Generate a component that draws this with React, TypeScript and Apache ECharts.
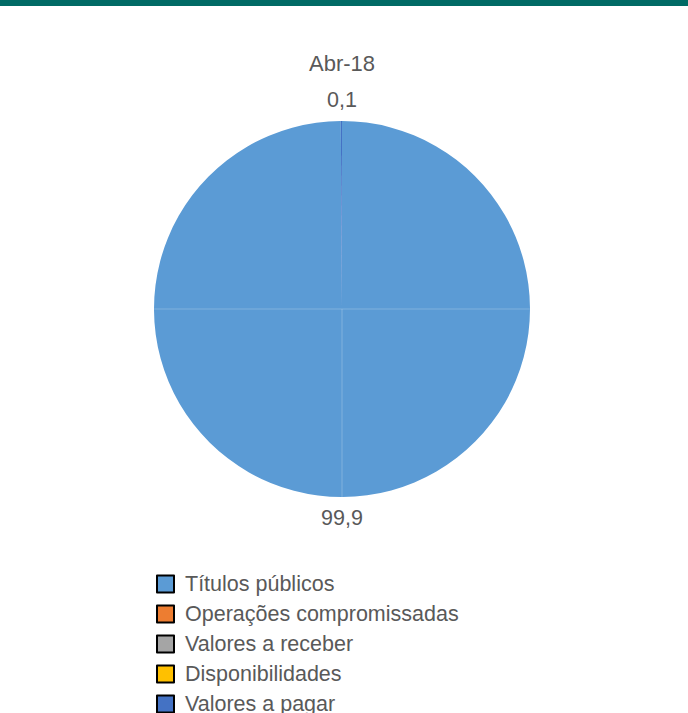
import React, { useEffect, useRef } from "react";
import * as echarts from "echarts";

const titleText = "Abr-18";
const categories = [
  "Títulos públicos",
  "Operações compromissadas",
  "Valores a receber",
  "Disponibilidades",
  "Valores a pagar",
];
const values = [99.9, 0, 0, 0, 0.1];
const colors = ["#5B9BD5", "#ED7D31", "#A5A5A5", "#FFC000", "#4472C4"];

const FONT = "'Liberation Sans', Arial, sans-serif";
const TXT = "#595959";

export default function App() {
  const ref = useRef<HTMLDivElement>(null);
  useEffect(() => {
    if (!ref.current) return;
    const chart = echarts.init(ref.current, null, { renderer: "svg" });
    const cx = 342;
    const cy = 309;
    const r = 188;
    chart.setOption({
      animation: false,
      backgroundColor: "#ffffff",
      color: colors,
      title: {
        text: titleText,
        left: cx,
        textAlign: "center",
        top: 52,
        padding: 0,
        textStyle: { color: TXT, fontFamily: FONT, fontSize: 22, fontWeight: "normal" },
      },
      legend: {
        orient: "vertical",
        left: 156,
        top: 573,
        height: 300,
        padding: 0,
        itemWidth: 17,
        itemHeight: 17,
        itemGap: 8,
        icon: "rect",
        itemStyle: { borderColor: "#000000", borderWidth: 2 },
        textStyle: {
          color: TXT,
          fontFamily: FONT,
          fontSize: 21.5,
          lineHeight: 22,
          padding: [0, 0, 0, 6],
        },
        data: categories,
      },
      graphic: [
        {
          type: "rect",
          shape: { x: 0, y: 0, width: 688, height: 6 },
          style: { fill: "#006A65" },
          z: 100,
        },
        {
          type: "line",
          shape: { x1: cx - r, y1: cy, x2: cx + r, y2: cy },
          style: { stroke: "rgba(255,255,255,0.22)", lineWidth: 1 },
          z: 100,
        },
        {
          type: "line",
          shape: { x1: cx, y1: cy, x2: cx, y2: cy + r },
          style: { stroke: "rgba(255,255,255,0.22)", lineWidth: 1 },
          z: 100,
        },
      ],
      series: [
        {
          type: "pie",
          center: [cx, cy],
          radius: [0, r],
          startAngle: 90,
          clockwise: true,
          avoidLabelOverlap: false,
          stillShowZeroSum: true,
          itemStyle: { borderWidth: 0 },
          label: {
            show: true,
            position: "outside",
            color: TXT,
            fontFamily: FONT,
            fontSize: 21.5,
            formatter: (p: any) =>
              p.value === 0 ? "" : Number(p.value).toFixed(1).replace(".", ","),
          },
          labelLine: { show: false, length: 21, length2: 0 },
          labelLayout: () => ({ x: cx, align: "center", verticalAlign: "middle" }),
          emphasis: { disabled: true },
          data: categories.map((name, i) => ({ name, value: values[i] })),
        },
      ],
    });
    return () => chart.dispose();
  }, []);
  return (
    <div
      ref={ref}
      style={{ position: "fixed", left: 0, top: 0, width: 688, height: 713 }}
    />
  );
}
